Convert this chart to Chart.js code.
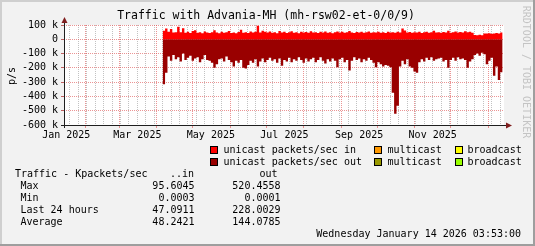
<!DOCTYPE html>
<html>
<head>
<meta charset="utf-8">
<script src="https://cdn.jsdelivr.net/npm/chart.js@4.4.1/dist/chart.umd.min.js"></script>
<style>
  html, body { margin: 0; padding: 0; background: #f2f2f2; }
  #wrap { position: relative; width: 535px; height: 246px; }
</style>
</head>
<body>
<div id="wrap"><canvas id="traffic" width="535" height="246"></canvas></div>
<script>
'use strict';

// x values are days since 1 Jan 2025
const titleText = 'Traffic with Advania-MH (mh-rsw02-et-0/0/9)';
const graphStart = 13.16;   // 14 Jan 2025 03:53
const graphEnd = 378.16;    // 14 Jan 2026 03:53
const firstDay = 95;        // first sample
const stepDays = 2;

// unicast packets/sec in, thousands
const inKpps = [
  0, 60, 75, 52, 72, 48, 50, 87, 50, 78,
  46, 52, 44, 58, 64, 45, 50, 43, 55, 48,
  44, 50, 63, 47, 42, 52, 45, 49, 58, 44,
  48, 42, 51, 66, 46, 50, 44, 55, 48, 52,
  95.6045, 48, 60, 52, 47, 55, 45, 50, 43, 58,
  47, 52, 44, 49, 56, 46, 50, 43, 53, 48,
  51, 45, 57, 47, 50, 44, 52, 48, 55, 46,
  50, 43, 49, 54, 47, 52, 45, 50, 58, 48,
  44, 51, 47, 53, 46, 49, 55, 45, 50, 48,
  52, 46, 50, 44, 53, 47, 50, 45, 52, 48,
  75, 62, 48, 51, 45, 50, 47, 53, 44, 49,
  52, 46, 50, 60, 47, 49, 45, 51, 48, 60,
  46, 50, 55, 47, 51, 48, 56, 49, 52, 46,
  30, 28, 32, 29, 40, 40, 42, 38, 41, 44,
  40, 47
];

// unicast packets/sec out, thousands (drawn negative)
const outKpps = [
  -20, -315, -235, -120, -150, -110, -140, -125, -155, -100,
  -145, -130, -115, -150, -135, -125, -160, -140, -110, -145,
  -150, -165, -200, -175, -140, -135, -155, -120, -145, -160,
  -190, -150, -165, -145, -200, -205, -180, -150, -165, -140,
  -190, -155, -135, -160, -145, -130, -150, -140, -165, -135,
  -185, -145, -155, -130, -160, -140, -150, -125, -145, -165,
  -135, -155, -140, -130, -160, -145, -125, -150, -170, -140,
  -155, -135, -150, -195, -140, -130, -160, -145, -219, -150,
  -125, -145, -135, -160, -140, -150, -130, -145, -165, -195,
  -160, -175, -190, -180, -185, -195, -375, -520.4558, -465, -190,
  -150, -175, -140, -190, -200, -225, -235, -160, -140, -155,
  -130, -145, -125, -150, -140, -135, -130, -155, -145, -200,
  -145, -130, -150, -125, -140, -135, -145, -200, -155, -140,
  -110, -100, -115, -95, -105, -175, -150, -130, -255, -190,
  -285, -230
];

const monthStarts = [31, 59, 90, 120, 151, 181, 212, 243, 273, 304, 334, 365];
const monthLabelDays = [15, 74, 135, 196, 258, 319];
const monthLabels = ['Jan 2025', 'Mar 2025', 'May 2025', 'Jul 2025', 'Sep 2025', 'Nov 2025'];
const firstWeekDay = 18;    // Sunday 19 Jan 2025

const legendNames = [
  ['unicast packets/sec in', 'multicast', 'broadcast'],
  ['unicast packets/sec out', 'multicast', 'broadcast'],
];
const legendColors = [
  ['#ff0000', '#ff9900', '#ffff00'],
  ['#990000', '#999900', '#99ff00'],
];

const statNames = ['Max', 'Min', 'Last 24 hours', 'Average'];
const statIn = [95.6045, 0.0003, 47.0911, 48.2421];
const statOut = [520.4558, 0.0001, 228.0029, 144.0785];
const stampText = 'Wednesday January 14 2026 03:53:00';

const MONO = "'DejaVu Sans Mono', 'Liberation Mono', monospace";
const minorGrid = 'rgba(143,143,143,0.55)';
const majorGrid = 'rgba(222,79,79,0.6)';

const toPoints = vals => vals.map((v, i) => ({ x: firstDay + i * stepDays, y: v * 1000 }));

const rrdDecor = {
  id: 'rrdDecor',
  beforeDraw(chart) {
    const { ctx, width, height, chartArea: a } = chart;
    ctx.save();
    ctx.fillStyle = '#f2f2f2';
    ctx.fillRect(0, 0, width, height);
    ctx.fillStyle = '#ffffff';
    ctx.fillRect(a.left, a.top, a.right - a.left, a.bottom - a.top);
    ctx.restore();
  },
  afterDraw(chart) {
    const { ctx, width, height, chartArea: a } = chart;
    ctx.save();

    // axes + arrows
    ctx.strokeStyle = '#1f1f1f';
    ctx.lineWidth = 1;
    ctx.beginPath();
    ctx.moveTo(a.left - 3, a.bottom + 0.5);
    ctx.lineTo(a.right + 3, a.bottom + 0.5);
    ctx.moveTo(a.left + 0.5, a.bottom + 3);
    ctx.lineTo(a.left + 0.5, a.top - 3);
    ctx.stroke();
    ctx.fillStyle = '#801f1f';
    ctx.beginPath();
    ctx.moveTo(a.right + 2, a.bottom - 2.5);
    ctx.lineTo(a.right + 8, a.bottom + 0.5);
    ctx.lineTo(a.right + 2, a.bottom + 3.5);
    ctx.fill();
    ctx.beginPath();
    ctx.moveTo(a.left - 2.5, a.top - 2);
    ctx.lineTo(a.left + 0.5, a.top - 8);
    ctx.lineTo(a.left + 3.5, a.top - 2);
    ctx.fill();

    // title, axis label, watermark
    ctx.fillStyle = '#000';
    ctx.textBaseline = 'middle';
    ctx.textAlign = 'center';
    ctx.font = '11.5px ' + MONO;
    ctx.fillText(titleText, 266, 16);

    ctx.font = '10px ' + MONO;
    ctx.save();
    ctx.translate(12, 76);
    ctx.rotate(-Math.PI / 2);
    ctx.fillText('p/s', 0, 0);
    ctx.restore();

    ctx.save();
    ctx.fillStyle = '#c4c4c4';
    ctx.translate(526, 72);
    ctx.rotate(Math.PI / 2);
    ctx.fillText('RRDTOOL / TOBI OETIKER', 0, 0);
    ctx.restore();

    // legend
    const boxX = [210, 374, 455];
    const textX = [223.5, 387.5, 467.5];
    const rowY = [150, 162];
    ctx.textAlign = 'left';
    legendNames.forEach((row, r) => row.forEach((name, c) => {
      ctx.fillStyle = '#000';
      ctx.fillRect(boxX[c], rowY[r] - 4, 8, 8);
      ctx.fillStyle = legendColors[r][c];
      ctx.fillRect(boxX[c] + 1, rowY[r] - 3, 6, 6);
      ctx.fillStyle = '#000';
      ctx.fillText(name, textX[c], rowY[r]);
    }));

    // stats table
    ctx.fillText('Traffic - Kpackets/sec', 15, 174);
    ctx.textAlign = 'right';
    ctx.fillText('..in', 194, 174);
    ctx.fillText('out', 277.5, 174);
    statNames.forEach((name, i) => {
      const y = 186 + i * 12;
      ctx.textAlign = 'left';
      ctx.fillText(name, 20.5, y);
      ctx.textAlign = 'right';
      ctx.fillText(statIn[i].toFixed(4), 194.5, y);
      ctx.fillText(statOut[i].toFixed(4), 280.5, y);
    });
    ctx.fillText(stampText, 521, 234);

    // frame
    ctx.fillStyle = '#cfcfcf';
    ctx.fillRect(0, 0, width, 2);
    ctx.fillRect(0, 0, 2, height);
    ctx.fillStyle = '#9e9e9e';
    ctx.fillRect(0, height - 2, width, 2);
    ctx.fillRect(width - 2, 0, 2, height);
    ctx.restore();
  }
};

new Chart('traffic', {
  type: 'line',
  data: {
    datasets: [{
      label: 'unicast packets/sec in',
      data: toPoints(inKpps),
      stepped: 'after',
      fill: 'origin',
      backgroundColor: '#ff0000',
      borderColor: 'rgba(0,0,0,0)',
      borderWidth: 0,
      pointRadius: 0,
    }, {
      label: 'unicast packets/sec out',
      data: toPoints(outKpps),
      stepped: 'after',
      fill: 'origin',
      backgroundColor: '#990000',
      borderColor: 'rgba(0,0,0,0)',
      borderWidth: 0,
      pointRadius: 0,
    }]
  },
  options: {
    responsive: false,
    animation: false,
    events: [],
    layout: { padding: { top: 25, right: 31, left: 0, bottom: 0 } },
    plugins: { legend: { display: false }, tooltip: { enabled: false } },
    scales: {
      x: {
        type: 'linear',
        position: 'bottom',
        weight: 0,
        min: graphStart,
        max: graphEnd,
        afterBuildTicks: scale => {
          const vals = [];
          for (let d = firstWeekDay; d < graphEnd; d += 7) vals.push(d);
          scale.ticks = [...new Set([...vals, ...monthStarts])]
            .sort((p, q) => p - q)
            .map(v => ({ value: v }));
        },
        afterFit: scale => { scale.height = 0; },
        ticks: { display: false, autoSkip: false },
        grid: {
          color: c => monthStarts.includes(c.tick && c.tick.value) ? majorGrid : minorGrid,
          tickColor: c => monthStarts.includes(c.tick && c.tick.value) ? majorGrid : 'rgba(0,0,0,0)',
          tickLength: 3,
          lineWidth: 1,
        },
        border: { display: false, dash: [1, 1] },
      },
      xl: {
        type: 'linear',
        position: 'bottom',
        weight: 1,
        min: graphStart,
        max: graphEnd,
        afterBuildTicks: scale => {
          scale.ticks = monthLabelDays.map(v => ({ value: v }));
        },
        afterFit: scale => { scale.height = 121; },
        ticks: {
          autoSkip: false,
          maxRotation: 0,
          padding: 4,
          color: '#000',
          font: { family: MONO, size: 10 },
          callback: v => monthLabels[monthLabelDays.indexOf(v)] || '',
        },
        grid: { display: false, drawTicks: false },
        border: { display: false },
      },
      y: {
        type: 'linear',
        min: -600000,
        max: 100000,
        afterFit: scale => { scale.width = 64; },
        ticks: {
          stepSize: 100000,
          autoSkip: false,
          padding: 3,
          color: '#000',
          font: { family: MONO, size: 10 },
          callback: v => v === 0 ? '0' : (v / 1000) + ' k',
        },
        grid: {
          color: majorGrid,
          tickColor: '#c06060',
          tickLength: 3,
          lineWidth: 1,
        },
        border: { display: false, dash: [1, 1] },
      }
    }
  },
  plugins: [rrdDecor]
});
</script>
</body>
</html>
